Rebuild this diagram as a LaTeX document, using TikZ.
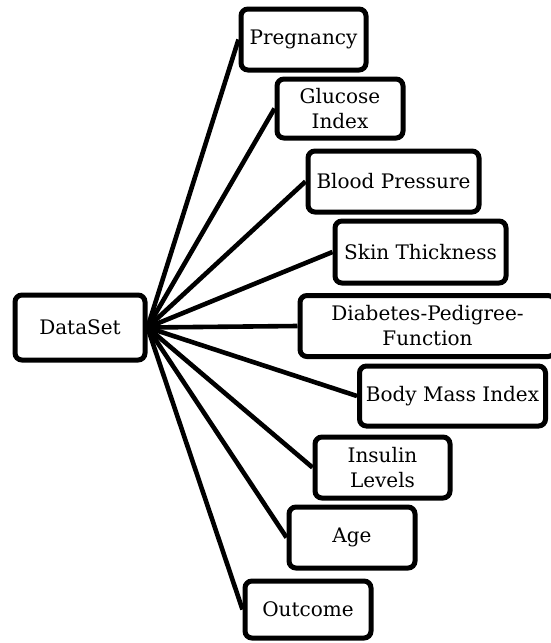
\documentclass[tikz,border=0pt]{standalone}
\usepackage{fontspec}
\setmainfont{DejaVu Serif}
\begin{document}
\begin{tikzpicture}[x=1pt,y=-1pt,
  box/.style={draw=black, line width=5pt, rounded corners=7pt, fill=white,
    align=center, inner sep=0pt, font=\fontsize{20}{25}\selectfont},
  conn/.style={draw=black, line width=4.6pt}]
\useasboundingbox (0,0) rectangle (551,643);
\node[box, minimum width=130pt, minimum height=65pt] (ds) at (80,327.5) {DataSet};
\node[box, minimum width=125pt, minimum height=61pt] (preg) at (303.5,39.5) {Pregnancy};
\node[box, minimum width=126pt, minimum height=59pt] (gluc) at (340,108.5) {Glucose\\Index};
\node[box, minimum width=171pt, minimum height=61pt] (bp) at (393.5,181.5) {Blood Pressure};
\node[box, minimum width=171pt, minimum height=62pt] (skin) at (420.5,252) {Skin Thickness};
\node[box, minimum width=255pt, minimum height=61pt] (dpf) at (427.5,326) {Diabetes-Pedigree-\\Function};
\node[box, minimum width=186pt, minimum height=60pt] (bmi) at (452.5,396) {Body Mass Index};
\node[box, minimum width=135pt, minimum height=61pt] (ins) at (382.5,467.5) {Insulin\\Levels};
\node[box, minimum width=126pt, minimum height=61pt] (age) at (352,537.5) {Age};
\node[box, minimum width=126pt, minimum height=57pt] (out) at (308,609.5) {Outcome};
\foreach \t in {preg,gluc,bp,skin,dpf,bmi,ins,age,out}
  \draw[conn] (ds.east) -- (\t.west);
\end{tikzpicture}
\end{document}
